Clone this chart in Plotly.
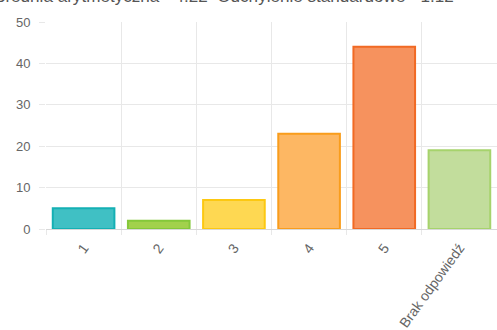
import plotly.graph_objects as go

categories = ["1", "2", "3", "4", "5", "Brak odpowiedź"]
counts = [5, 2, 7, 23, 44, 19]
fill_colors = ["#40c0c4", "#a2d14c", "#fed852", "#fdb763", "#f6925e", "#c2dd9c"]
border_colors = ["#14b0b4", "#85c83a", "#fcc812", "#f99d1c", "#f16a24", "#a6d36c"]
title_text = "Średnia arytmetyczna - 4.22  Odchylenie standardowe - 1.12"

xpos = list(range(len(categories)))
FONT = "Liberation Sans, Arial, Helvetica, sans-serif"
GRID = "#e8e8e8"

fig = go.Figure(go.Bar(
    x=xpos, y=counts, width=0.82,
    marker=dict(color=fill_colors, line=dict(color=border_colors, width=2)),
    hoverinfo="skip",
))

fig.update_layout(
    width=497, height=330,
    margin=dict(l=46, r=0, t=22, b=101, autoexpand=False),
    paper_bgcolor="white", plot_bgcolor="white",
    showlegend=False,
    font=dict(family=FONT, color="#666666", size=12),
    annotations=[dict(
        text=title_text, xref="paper", yref="paper",
        x=(456 - 46) / 451, y=1 + 25 / 207, xanchor="right", yanchor="middle",
        showarrow=False, font=dict(size=17.1, color="#555555", family=FONT),
    )],
)

fig.update_xaxes(
    range=[-0.5, 5.5], tickvals=xpos, ticktext=categories,
    tickangle=-54, ticks="", showgrid=False, zeroline=False,
    showline=False, automargin=False, ticklabelstandoff=7,
    tickfont=dict(size=14, color="#666666"),
    minor=dict(tickvals=[i - 0.5 for i in range(len(categories) + 1)],
               ticks="outside", ticklen=5, tickcolor=GRID,
               showgrid=True, gridcolor=GRID, gridwidth=1),
)
fig.update_yaxes(
    range=[0, 50], dtick=10, ticks="outside", ticklen=6, tickcolor=GRID,
    showgrid=True, gridcolor=GRID, zeroline=True, zerolinecolor="#d8d8d8",
    zerolinewidth=1, showline=False, automargin=False,
    tickfont=dict(size=13, color="#666666"), ticklabelstandoff=6,
)

fig.write_html(
    "out.html",
    config={"displayModeBar": False},
    post_script="document.body.style.margin='0px';document.body.style.overflow='hidden';",
)
